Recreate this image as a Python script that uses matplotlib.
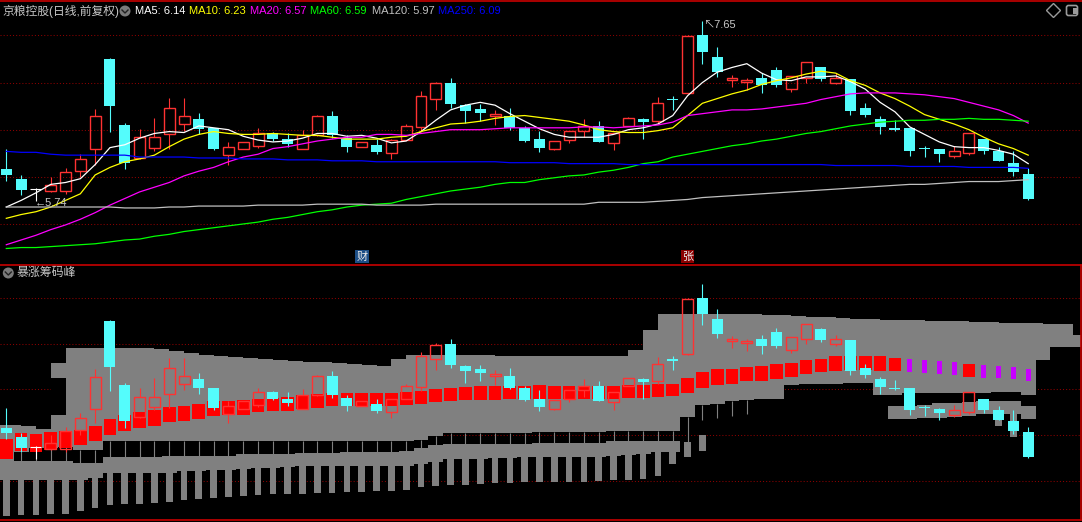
import numpy as np
import matplotlib
matplotlib.use('Agg')
import matplotlib.pyplot as plt
import matplotlib.transforms as mtrans
from matplotlib.patches import Circle, FancyBboxPatch, Rectangle
from matplotlib.lines import Line2D

plt.rcParams['font.family'] = ['Liberation Sans', 'Noto Sans CJK SC', 'DejaVu Sans']

# ---- daily K-line (70 sessions), prices ----
opens = [6.08, 5.98, 5.87, 5.85, 5.85, 6.06, 6.29, 7.25, 6.55, 6.20,
         6.31, 6.45, 6.56, 6.61, 6.52, 6.23, 6.29, 6.33, 6.47, 6.40,
         6.29, 6.44, 6.65, 6.41, 6.32, 6.34, 6.25, 6.39, 6.53, 6.83,
         7.00, 6.76, 6.72, 6.65, 6.65, 6.52, 6.40, 6.29, 6.39, 6.49,
         6.54, 6.36, 6.54, 6.61, 6.59, 6.83, 6.89, 7.50, 7.27, 7.03,
         7.01, 7.05, 7.13, 6.93, 7.05, 7.16, 7.00, 7.04, 6.73, 6.61,
         6.52, 6.52, 6.31, 6.29, 6.22, 6.25, 6.40, 6.27, 6.15, 6.03]
highs = [6.30, 6.02, 5.88, 6.00, 6.09, 6.24, 6.72, 7.26, 6.57, 6.51,
         6.62, 6.84, 6.84, 6.68, 6.52, 6.37, 6.37, 6.52, 6.48, 6.47,
         6.50, 6.66, 6.70, 6.44, 6.37, 6.40, 6.40, 6.56, 6.91, 7.01,
         7.05, 6.77, 6.77, 6.71, 6.73, 6.54, 6.49, 6.38, 6.49, 6.61,
         6.59, 6.47, 6.63, 6.62, 6.85, 6.86, 7.50, 7.65, 7.38, 7.08,
         7.05, 7.10, 7.17, 7.07, 7.22, 7.17, 7.10, 7.04, 6.78, 6.64,
         6.60, 6.52, 6.33, 6.30, 6.33, 6.47, 6.40, 6.32, 6.27, 6.09]
lows = [5.96, 5.81, 5.74, 5.84, 5.82, 6.00, 6.13, 6.48, 6.08, 6.19,
        6.27, 6.30, 6.49, 6.45, 6.28, 6.13, 6.29, 6.31, 6.38, 6.32,
        6.29, 6.43, 6.41, 6.26, 6.32, 6.24, 6.19, 6.39, 6.48, 6.71,
        6.73, 6.57, 6.59, 6.55, 6.50, 6.37, 6.26, 6.28, 6.36, 6.42,
        6.37, 6.28, 6.54, 6.40, 6.56, 6.71, 6.88, 7.20, 7.06, 6.95,
        6.92, 6.89, 6.95, 6.90, 7.00, 7.02, 6.98, 6.66, 6.63, 6.45,
        6.49, 6.22, 6.21, 6.16, 6.20, 6.23, 6.24, 6.17, 6.01, 5.75]
closes = [6.02, 5.86, 5.87, 5.91, 6.05, 6.19, 6.64, 6.75, 6.15, 6.42,
          6.42, 6.73, 6.65, 6.51, 6.30, 6.32, 6.37, 6.47, 6.40, 6.35,
          6.44, 6.65, 6.44, 6.32, 6.37, 6.26, 6.39, 6.54, 6.86, 6.99,
          6.77, 6.70, 6.68, 6.67, 6.52, 6.38, 6.31, 6.38, 6.49, 6.54,
          6.37, 6.47, 6.62, 6.58, 6.78, 6.81, 7.49, 7.32, 7.11, 7.05,
          7.03, 6.97, 6.97, 7.07, 7.22, 7.04, 7.05, 6.70, 6.66, 6.53,
          6.50, 6.27, 6.30, 6.24, 6.27, 6.47, 6.27, 6.17, 6.05, 5.76]

# ---- moving averages as drawn ----
ma5 = [5.68, 5.75, 5.83, 5.92, 5.94, 5.98, 6.13, 6.31, 6.34, 6.41,
       6.46, 6.48, 6.47, 6.54, 6.52, 6.50, 6.43, 6.39, 6.37, 6.38,
       6.41, 6.46, 6.46, 6.43, 6.44, 6.41, 6.36, 6.38, 6.48, 6.60,
       6.71, 6.76, 6.79, 6.76, 6.67, 6.59, 6.51, 6.45, 6.42, 6.42,
       6.42, 6.45, 6.50, 6.52, 6.56, 6.65, 6.86, 7.00, 7.11, 7.16,
       7.20, 7.10, 7.03, 7.02, 7.06, 7.06, 7.07, 7.01, 6.93, 6.79,
       6.69, 6.53, 6.45, 6.37, 6.32, 6.31, 6.31, 6.28, 6.24, 6.14]
ma10 = [5.56, 5.60, 5.63, 5.68, 5.75, 5.82, 6.02, 6.10, 6.16, 6.19,
        6.23, 6.32, 6.40, 6.45, 6.48, 6.46, 6.45, 6.45, 6.46, 6.45,
        6.44, 6.44, 6.42, 6.40, 6.40, 6.40, 6.42, 6.43, 6.48, 6.52,
        6.56, 6.57, 6.59, 6.62, 6.64, 6.65, 6.63, 6.61, 6.59, 6.55,
        6.50, 6.48, 6.47, 6.47, 6.49, 6.52, 6.65, 6.78, 6.83, 6.88,
        6.92, 6.98, 7.02, 7.05, 7.09, 7.12, 7.10, 7.02, 6.97, 6.89,
        6.83, 6.75, 6.66, 6.61, 6.56, 6.50, 6.42, 6.35, 6.30, 6.23]
ma20 = [5.28, 5.33, 5.38, 5.44, 5.49, 5.55, 5.62, 5.70, 5.77, 5.84,
        5.89, 5.94, 6.01, 6.06, 6.10, 6.16, 6.21, 6.24, 6.30, 6.32,
        6.35, 6.38, 6.40, 6.42, 6.42, 6.45, 6.45, 6.44, 6.46, 6.48,
        6.50, 6.50, 6.50, 6.51, 6.52, 6.52, 6.52, 6.52, 6.52, 6.53,
        6.53, 6.52, 6.53, 6.54, 6.55, 6.58, 6.65, 6.67, 6.69, 6.71,
        6.71, 6.72, 6.74, 6.76, 6.78, 6.82, 6.85, 6.88, 6.89, 6.89,
        6.89, 6.88, 6.87, 6.85, 6.83, 6.79, 6.75, 6.71, 6.65, 6.57]
ma60 = [5.24, 5.25, 5.25, 5.26, 5.27, 5.28, 5.29, 5.31, 5.33, 5.34,
        5.37, 5.39, 5.42, 5.44, 5.46, 5.48, 5.50, 5.52, 5.55, 5.57,
        5.60, 5.63, 5.65, 5.68, 5.70, 5.71, 5.72, 5.76, 5.79, 5.82,
        5.85, 5.87, 5.89, 5.92, 5.94, 5.94, 5.97, 5.99, 6.01, 6.02,
        6.05, 6.07, 6.10, 6.14, 6.16, 6.21, 6.24, 6.27, 6.30, 6.33,
        6.35, 6.38, 6.40, 6.43, 6.46, 6.48, 6.51, 6.54, 6.56, 6.58,
        6.59, 6.60, 6.60, 6.61, 6.61, 6.62, 6.61, 6.61, 6.60, 6.59]
ma120 = [5.68, 5.68, 5.68, 5.68, 5.68, 5.68, 5.68, 5.68, 5.67, 5.67,
         5.67, 5.68, 5.68, 5.69, 5.69, 5.69, 5.69, 5.70, 5.70, 5.70,
         5.70, 5.71, 5.71, 5.71, 5.71, 5.70, 5.70, 5.70, 5.70, 5.71,
         5.71, 5.71, 5.71, 5.71, 5.71, 5.71, 5.71, 5.71, 5.71, 5.71,
         5.73, 5.73, 5.73, 5.73, 5.74, 5.75, 5.76, 5.78, 5.79, 5.80,
         5.81, 5.82, 5.83, 5.84, 5.85, 5.86, 5.87, 5.88, 5.89, 5.90,
         5.91, 5.92, 5.92, 5.93, 5.94, 5.95, 5.95, 5.95, 5.96, 5.97]
ma250 = [6.27, 6.26, 6.26, 6.24, 6.23, 6.23, 6.23, 6.23, 6.23, 6.21,
         6.21, 6.21, 6.21, 6.20, 6.20, 6.20, 6.19, 6.19, 6.19, 6.18,
         6.18, 6.18, 6.17, 6.17, 6.17, 6.16, 6.16, 6.16, 6.16, 6.16,
         6.16, 6.16, 6.16, 6.16, 6.15, 6.15, 6.15, 6.15, 6.14, 6.14,
         6.14, 6.14, 6.13, 6.13, 6.13, 6.13, 6.13, 6.13, 6.13, 6.13,
         6.13, 6.13, 6.13, 6.13, 6.13, 6.13, 6.12, 6.12, 6.12, 6.12,
         6.12, 6.11, 6.11, 6.11, 6.11, 6.10, 6.10, 6.10, 6.10, 6.09]
ma_names = ['MA5', 'MA10', 'MA20', 'MA60', 'MA120', 'MA250']

stock_title = '京粮控股(日线,前复权)'
event_idx = [24, 46]
event_text = ['财', '张']
grid_levels = [7.5, 7.0, 6.5, 6.0, 5.5]

# ---- 暴涨筹码峰 panel ----
# upper chip area: top edge between candle centres (74), bottom edge per candle (73)
peak_top = [6.11, 6.11, 6.10, 6.07, 6.79, 6.95, 6.95, 6.95, 6.95, 6.95,
            6.95, 6.94, 6.92, 6.90, 6.88, 6.87, 6.85, 6.84, 6.83, 6.82,
            6.81, 6.80, 6.80, 6.79, 6.78, 6.77, 6.76, 6.83, 6.88, 6.88,
            6.88, 6.88, 6.88, 6.88, 6.87, 6.87, 6.87, 6.86, 6.86, 6.86,
            6.86, 6.86, 6.86, 6.93, 7.15, 7.33, 7.33, 7.33, 7.33, 7.33,
            7.33, 7.33, 7.31, 7.31, 7.30, 7.29, 7.29, 7.28, 7.27, 7.27,
            7.26, 7.26, 7.26, 7.25, 7.25, 7.25, 7.24, 7.24, 7.23, 7.23,
            7.23, 7.22, 7.22, 7.10]
peak_bot = [5.72, 5.82, 5.86, 5.86, 5.87, 5.84, 5.84, 5.93, 5.93, 5.93,
            5.93, 5.93, 5.93, 5.93, 5.93, 5.93, 5.93, 5.93, 5.93, 5.93,
            5.93, 5.93, 5.93, 5.93, 5.93, 5.93, 5.93, 5.93, 5.95, 5.99,
            6.02, 6.02, 6.02, 6.02, 6.02, 6.02, 6.03, 6.03, 6.03, 6.03,
            6.03, 6.05, 6.05, 6.05, 6.05, 6.05, 6.20, 6.33, 6.34, 6.37,
            6.38, 6.39, 6.40, 6.55, 6.56, 6.56, 6.56, 6.57, 6.57, 6.44,
            6.44, 6.46, 6.46, 6.46, 6.46, 6.46, 6.46, 6.47, 6.47, 6.44,
            6.82, 6.96, 6.96]
hole_bar = [4]
hole_top = [6.63]
hole_bot = [6.22]
nan = np.nan
band_top = [5.72, 5.72, 5.72, 5.72, 5.72, 5.69, 5.69, 5.76, 5.76, 5.76,
            5.76, 5.77, 5.77, 5.77, 5.77, 5.77, 5.79, 5.79, 5.79, 5.79,
            5.80, 5.80, 5.80, 5.81, 5.81, 5.81, 5.81, 5.83, 5.86, 5.89,
            5.90, 5.90, 5.90, 5.90, 5.90, 5.90, 5.91, 5.91, 5.91, 5.91,
            5.91, 5.93, 5.93, 5.93, 5.93, 5.93, 5.92, 6.00, nan, nan,
            nan, nan, nan, nan, nan, nan, nan, nan, nan, nan,
            6.32, 6.32, 6.33, 6.35, 6.35, 6.36, 6.37, 6.37, 6.37, 6.32]
band_bot = [5.51, 5.51, 5.51, 5.51, 5.51, 5.51, 5.53, 5.58, 5.58, 5.58,
            5.58, 5.58, 5.61, 5.61, 5.62, 5.62, 5.63, 5.64, 5.64, 5.65,
            5.66, 5.66, 5.66, 5.66, 5.66, 5.66, 5.66, 5.66, 5.68, 5.71,
            5.74, 5.74, 5.74, 5.75, 5.75, 5.76, 5.76, 5.76, 5.76, 5.76,
            5.76, 5.77, 5.78, 5.79, 5.82, 5.82, 5.92, 6.00, nan, nan,
            nan, nan, nan, nan, nan, nan, nan, nan, nan, nan,
            6.18, 6.18, 6.19, 6.19, 6.20, 6.21, 6.23, 6.23, 6.23, 6.18]
leg_bot = [5.12, 5.13, 5.13, 5.14, 5.14, 5.17, 5.20, 5.24, 5.25, 5.25,
           5.26, 5.27, 5.29, 5.30, 5.31, 5.32, 5.33, 5.35, 5.36, 5.36,
           5.36, 5.37, 5.37, 5.38, 5.38, 5.39, 5.39, 5.40, 5.43, 5.44,
           5.45, 5.45, 5.47, 5.48, 5.48, 5.49, 5.49, 5.49, 5.49, 5.49,
           5.50, 5.51, 5.51, 5.52, 5.55, 5.68, 5.76, 5.83, nan, nan,
           nan, nan, nan, nan, nan, nan, nan, nan, nan, nan,
           nan, nan, nan, nan, nan, nan, nan, 6.10, 5.98, nan]
stem_bot = [5.72, 5.72, 5.72, 5.72, 5.72, 5.69, 5.69, 5.76, 5.76, 5.76,
            5.76, 5.77, 5.77, 5.77, 5.77, 5.77, 5.79, 5.79, 5.79, 5.79,
            5.80, 5.80, 5.80, 5.81, 5.81, 5.81, 5.81, 5.83, 5.86, 5.89,
            5.90, 5.90, 5.90, 5.90, 5.90, 5.90, 5.91, 5.91, 5.91, 5.91,
            5.91, 5.93, 5.93, 5.93, 5.93, 5.93, 5.92, 6.17, 6.19, 6.21,
            6.23, nan, nan, nan, nan, nan, nan, nan, nan, nan,
            nan, nan, nan, nan, nan, nan, nan, nan, nan, nan]
cost_top = [5.96, 6.02, 6.01, 6.03, 6.05, 6.06, 6.10, 6.18, 6.22, 6.25,
            6.28, 6.31, 6.32, 6.34, 6.37, 6.37, 6.38, 6.40, 6.41, 6.42,
            6.44, 6.45, 6.46, 6.46, 6.46, 6.46, 6.46, 6.47, 6.48, 6.50,
            6.51, 6.53, 6.54, 6.54, 6.54, 6.54, 6.55, 6.54, 6.54, 6.54,
            6.54, 6.54, 6.55, 6.55, 6.56, 6.56, 6.63, 6.69, 6.72, 6.72,
            6.75, 6.76, 6.78, 6.79, 6.82, 6.83, 6.86, 6.87, 6.87, 6.86,
            6.84, 6.83, 6.82, 6.81, 6.80, 6.78, 6.77, 6.76, 6.75, 6.72]
cost_bot = [5.74, 5.83, 5.82, 5.84, 5.86, 5.89, 5.94, 6.00, 6.05, 6.08,
            6.10, 6.14, 6.15, 6.18, 6.21, 6.22, 6.22, 6.25, 6.26, 6.26,
            6.29, 6.30, 6.32, 6.32, 6.32, 6.32, 6.32, 6.33, 6.34, 6.36,
            6.37, 6.38, 6.38, 6.38, 6.40, 6.40, 6.39, 6.39, 6.39, 6.40,
            6.40, 6.40, 6.41, 6.41, 6.42, 6.43, 6.46, 6.52, 6.55, 6.56,
            6.59, 6.59, 6.61, 6.64, 6.67, 6.69, 6.70, 6.71, 6.71, 6.70,
            6.70, 6.69, 6.68, 6.67, 6.66, 6.64, 6.63, 6.62, 6.61, 6.59]
cost_flag = [0] * 61 + [1, 1, 1, 1, 0, 1, 1, 1, 1]

# ---------------------------------------------------------------
W, H = 1082, 522
RED = '#FF3232'
CYAN = '#54FCFC'
GRAY = '#808080'
BORDER = '#C80000'
GRID = '#8C0000'
TXT = '#C8C8C8'
ma_colors = ['#FFFFFF', '#FFFF00', '#FF00FF', '#00FF00', '#C0C0C0', '#0000FF']
ma_xpos = [135, 189, 250, 310, 372, 438]

o = np.array(opens); hi = np.array(highs); lo = np.array(lows); c = np.array(closes)
n = len(c)
x = np.arange(n)

fig = plt.figure(figsize=(W / 100, H / 100), dpi=100, facecolor='black')
T = fig.dpi_scale_trans


def P(xp, yp):
    return xp / 100, (H - yp) / 100


def fpos(left, top, right, bottom):
    return [left / W, 1 - bottom / H, (right - left) / W, (bottom - top) / H]


ax1 = fig.add_axes(fpos(0, 1, 1080.5, 264))
ax2 = fig.add_axes(fpos(0, 264.5, 1080.5, 520))
for ax in (ax1, ax2):
    ax.set_facecolor('black')
    ax.set_xlim(-0.425, 72.53)
    ax.set_xticks([])
    ax.set_yticks([])
    for s in ax.spines.values():
        s.set_visible(False)
    for lv in grid_levels:
        ax.axhline(lv, color=GRID, lw=0.75, ls=(0, (1, 2)), zorder=0)
ax1.set_ylim(5.0755, 7.8649)
ax2.set_ylim(5.0711, 7.8665)
for side in ('top', 'bottom', 'right'):
    ax2.spines[side].set_visible(True)
    ax2.spines[side].set_color(BORDER)
    ax2.spines[side].set_linewidth(1.2)
fig.add_artist(Line2D([0, 1], [1 - 0.7 / H] * 2, transform=fig.transFigure, color=BORDER, lw=1.2))


def candles(ax, z):
    body_lo = np.minimum(o, c)
    body_hi = np.maximum(o, c)
    up = c > o
    dn = c < o
    eq = c == o
    ax.vlines(x[up], lo[up], body_lo[up], color=RED, lw=0.8, zorder=z)
    ax.vlines(x[up], body_hi[up], hi[up], color=RED, lw=0.8, zorder=z)
    ax.bar(x[up], (body_hi - body_lo)[up], bottom=body_lo[up], width=0.74,
           facecolor='none', edgecolor=RED, lw=1.0, zorder=z)
    ax.vlines(x[dn], lo[dn], hi[dn], color=CYAN, lw=0.8, zorder=z)
    ax.bar(x[dn], (body_hi - body_lo)[dn], bottom=body_lo[dn], width=0.74,
           color=CYAN, lw=0, zorder=z)
    ax.vlines(x[eq], lo[eq], hi[eq], color='white', lw=0.8, zorder=z)
    ax.hlines(o[eq], x[eq] - 0.37, x[eq] + 0.37, color='white', lw=0.8, zorder=z)


# ---- main K-line panel ----
candles(ax1, 2)
for vals, col in zip([ma5, ma10, ma20, ma60, ma120, ma250], ma_colors):
    ax1.plot(x, vals, color=col, lw=0.9, zorder=3)

imax = int(np.argmax(hi))
imin = int(np.argmin(lo))
ax1.annotate('↖' + f'{hi[imax]:.2f}', xy=(imax, hi[imax]), xytext=(1, 1),
             textcoords='offset pixels', ha='left', va='top', color=TXT, fontsize=8, zorder=4)
ax1.annotate('←' + f'{lo[imin]:.2f}', xy=(imin, lo[imin]), xytext=(-1, -2),
             textcoords='offset pixels', ha='left', va='center', color=TXT, fontsize=8, zorder=4)

blend = mtrans.blended_transform_factory(ax1.transData, ax1.transAxes)
for idx, ch, bg in zip(event_idx, event_text, ['#1C4E86', '#8B0000']):
    ax1.text(idx, 0.0285, ch, transform=blend, ha='center', va='center', fontsize=8,
             color='#E8E8E8', zorder=5,
             bbox=dict(boxstyle='square,pad=0.12', fc=bg, ec='none'))

# ---- chip-peak panel ----
pt = np.array(peak_top)
pb = np.array(peak_bot)
kk = np.arange(len(pt))
top_x = np.column_stack([kk - 1.0, kk]).ravel()
top_y = np.repeat(pt, 2)
ii = np.arange(len(pb))
bot_x = np.column_stack([ii - 0.5, ii + 0.5]).ravel()
bot_x[0] = -1.0
bot_x[-1] = kk[-1]
bot_y = np.repeat(pb, 2)
ax2.fill(np.r_[top_x, bot_x[::-1]], np.r_[top_y, bot_y[::-1]], color=GRAY, lw=0, zorder=1)
ax2.bar(np.array(hole_bar) - 0.5, np.array(hole_top) - np.array(hole_bot), bottom=hole_bot,
        width=1.0, color='black', lw=0, zorder=1.1)

bt = np.array(band_top)
bb = np.array(band_bot)
m = ~np.isnan(bt)
ax2.bar(x[m], (bt - bb)[m], bottom=bb[m], width=1.0, color=GRAY, lw=0, antialiased=False, zorder=1)
lb = np.array(leg_bot)
m = ~np.isnan(lb)
ax2.bar(x[m], (bb - lb)[m], bottom=lb[m], width=0.45, color=GRAY, lw=0, zorder=1)
sb = np.array(stem_bot)
m = ~np.isnan(sb)
ax2.vlines(x[m], sb[m], pb[:n][m], color=GRAY, lw=0.8, zorder=1)

ct = np.array(cost_top)
cb = np.array(cost_bot)
cf = np.array(cost_flag) == 1
ax2.bar(x[~cf], (ct - cb)[~cf], bottom=cb[~cf], width=0.86, color='#FF0000', lw=0, zorder=2)
ax2.bar(x[cf], (ct - cb)[cf], bottom=cb[cf], width=0.34, color='#C800FF', lw=0, zorder=2)
candles(ax2, 3)

# ---- header texts and icons ----
fig.text(*P(2, 11), stock_title, transform=T, color=TXT, fontsize=8.5, ha='left', va='center')
for cx, cy in [(125, 11), (8.3, 273)]:
    fig.add_artist(Circle(P(cx, cy), 0.055, transform=T, fc='#7A7A7A', ec='none'))
    fig.add_artist(Line2D([(cx - 3) / 100, cx / 100, (cx + 3) / 100],
                          [(H - cy + 1) / 100, (H - cy - 2) / 100, (H - cy + 1) / 100],
                          transform=T, color='#202020', lw=1.0))
for name, vals, col, xp in zip(ma_names, [ma5, ma10, ma20, ma60, ma120, ma250], ma_colors, ma_xpos):
    fig.text(*P(xp, 11), f'{name}: {vals[-1]:.2f}', transform=T, color=col, fontsize=8,
             ha='left', va='center')
fig.text(*P(17, 273), '暴涨筹码峰', transform=T, color=TXT, fontsize=8.6, ha='left', va='center')

fig.add_artist(Line2D([P(1053, 10)[0]], [P(1053, 10)[1]], transform=T, marker='D', ms=7,
                      mfc='none', mec='#9A9A9A', mew=1.0))
fig.add_artist(FancyBboxPatch(P(1066.5, 15.5), 0.11, 0.10, transform=T,
                              boxstyle='round,pad=0,rounding_size=0.02',
                              fc='none', ec='#9A9A9A', lw=1.2))
fig.add_artist(Rectangle(P(1072.5, 13.5), 0.04, 0.06, transform=T, fc='#9A9A9A', ec='none'))

fig.savefig('out.png', dpi=100, facecolor='black')
